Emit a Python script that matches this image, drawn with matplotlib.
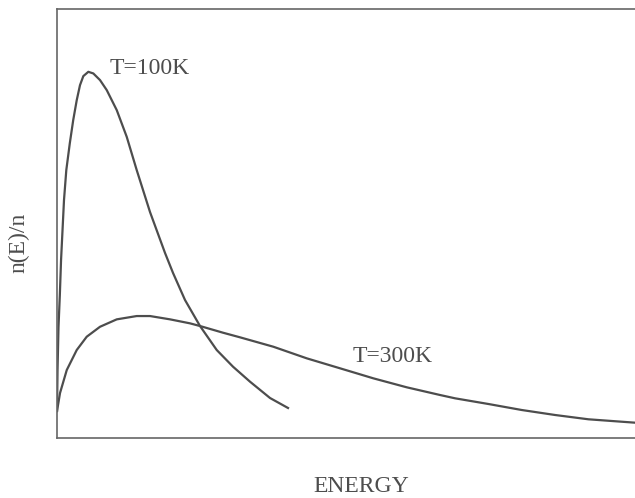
import matplotlib
matplotlib.use("Agg")
import matplotlib.pyplot as plt

# energy (arbitrary units) and relative population n(E)/n
e_100 = [0, 0.08, 0.23, 0.44, 0.63, 0.86, 1.09, 1.45, 2.00, 2.53, 3.08,
         3.59, 4.11, 4.89, 5.67, 6.72, 7.77, 9.33, 10.89, 12.45, 14.53,
         16.88, 18.13, 20.0, 22.34, 24.95, 27.5, 30.16, 33.28, 36.09]
n_100 = [6.28, 15.81, 25.81, 33.26, 41.40, 48.37, 55.35, 62.33, 68.60,
         73.95, 78.60, 82.09, 84.19, 85.19, 84.81, 83.26, 80.93, 76.28,
         70.07, 62.33, 52.56, 43.02, 38.37, 32.09, 26.05, 20.47, 16.58,
         13.09, 9.30, 6.98]

e_300 = [0, 0.47, 1.52, 3.08, 4.64, 6.72, 9.33, 12.45, 14.53, 17.66, 20.78,
         22.34, 25.94, 28.59, 33.80, 39.02, 44.22, 49.42, 54.64, 59.84,
         62.19, 67.39, 72.61, 77.81, 83.02, 90.31]
n_300 = [6.28, 10.47, 15.81, 20.47, 23.56, 25.88, 27.60, 28.37, 28.37, 27.60,
         26.67, 26.05, 24.49, 23.42, 21.23, 18.53, 16.21, 13.88, 11.79, 10.0,
         9.23, 7.91, 6.51, 5.35, 4.35, 3.56]

labels = ["T=100K", "T=300K"]

ink = "#4d4d4d"
plt.rcParams["font.family"] = ["Liberation Serif", "DejaVu Serif"]

fig = plt.figure(figsize=(6.35, 4.98), dpi=100)
ax = fig.add_axes([0.0898, 0.1205, 0.9102, 0.8614])

ax.plot(e_100, n_100, color=ink, lw=1.6, solid_joinstyle="round")
ax.plot(e_300, n_300, color=ink, lw=1.6, solid_joinstyle="round")

ax.text(8.28, 86.0, labels[0], color=ink, fontsize=17, ha="left", va="center")
ax.text(46.1, 18.9, labels[1], color=ink, fontsize=17, ha="left", va="center")

ax.set_xlim(0, 90.3)
ax.set_ylim(0, 99.8)
ax.set_xticks([])
ax.set_yticks([])
for side in ("left", "bottom", "top"):
    ax.spines[side].set_color("#666666")
    ax.spines[side].set_linewidth(1.2)
ax.spines["right"].set_visible(False)

fig.text(0.569, 0.024, "ENERGY", color=ink, fontsize=17, ha="center", va="center")
fig.text(0.029, 0.512, "n(E)/n", color=ink, fontsize=17, ha="center",
         va="center", rotation=90)

fig.savefig("out.png", dpi=100)
